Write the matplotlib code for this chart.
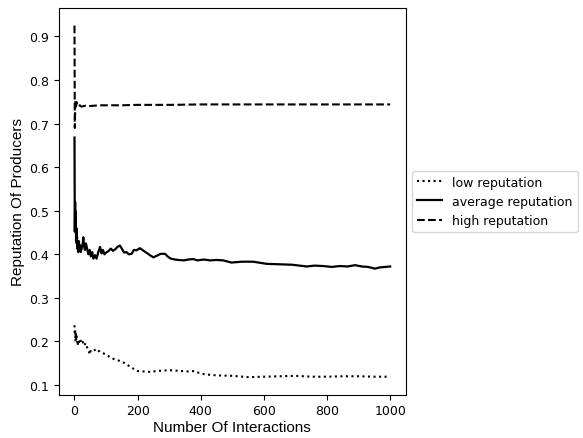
import matplotlib
matplotlib.use("Agg")
import matplotlib.pyplot as plt

# low reputation producers (dotted)
low_x = [0, 1, 2, 3, 4, 5, 6, 8, 10, 12, 14, 18, 22, 26, 30, 35, 40, 45, 48, 52, 60, 70, 80, 90, 100,
         110, 120, 130, 140, 150, 160, 170, 180, 190, 200, 220, 240, 260, 280, 300, 320, 340, 360, 380,
         400, 420, 450, 500, 550, 600, 650, 700, 750, 800, 850, 900, 950, 1000]
low_y = [0.237, 0.215, 0.228, 0.200, 0.222, 0.205, 0.215, 0.208, 0.190, 0.203, 0.198, 0.205, 0.195, 0.199,
         0.190, 0.196, 0.186, 0.180, 0.170, 0.180, 0.178, 0.183, 0.176, 0.173, 0.170,
         0.165, 0.161, 0.158, 0.156, 0.153, 0.150, 0.145, 0.140, 0.136, 0.132, 0.131, 0.130, 0.132, 0.133,
         0.134, 0.133, 0.132, 0.131, 0.132, 0.126, 0.124, 0.122, 0.121, 0.118, 0.119, 0.120, 0.121, 0.119,
         0.119, 0.120, 0.120, 0.119, 0.119]

# average reputation producers (solid)
avg_x = [0, 1, 2, 3, 4, 5, 6, 7, 8, 9, 10, 12, 14, 16, 18, 20, 23, 26, 28, 30, 33, 36, 40, 44, 48, 52,
         56, 60, 65, 70, 75, 81, 86, 90, 95, 100, 107, 115, 122, 130, 136, 144, 150, 157, 165, 172, 181,
         188, 196, 207, 215, 225, 241, 250, 262, 273, 287, 295, 305, 318, 329, 347, 360, 376, 390, 410,
         429, 450, 471, 497, 530, 566, 609, 651, 690, 736, 760, 788, 815, 841, 865, 889, 910, 930, 952,
         968, 985, 1000]
avg_y = [0.668, 0.452, 0.520, 0.470, 0.498, 0.432, 0.460, 0.425, 0.440, 0.413, 0.420, 0.405, 0.430, 0.410,
         0.420, 0.405, 0.415, 0.425, 0.439, 0.420, 0.410, 0.425, 0.413, 0.400, 0.410, 0.395, 0.405, 0.390,
         0.398, 0.390, 0.404, 0.417, 0.402, 0.410, 0.400, 0.404, 0.407, 0.413, 0.408, 0.412, 0.417, 0.420,
         0.413, 0.404, 0.405, 0.400, 0.401, 0.410, 0.409, 0.414, 0.410, 0.405, 0.397, 0.393, 0.397, 0.401,
         0.401, 0.395, 0.390, 0.388, 0.387, 0.386, 0.388, 0.389, 0.386, 0.388, 0.386, 0.387, 0.386, 0.381,
         0.383, 0.383, 0.378, 0.377, 0.376, 0.372, 0.374, 0.373, 0.371, 0.373, 0.372, 0.375, 0.372, 0.371,
         0.367, 0.370, 0.371, 0.372]

# high reputation producers (dashed)
high_x = [0, 1, 2, 3, 5, 7, 10, 14, 17, 22, 28, 35, 45, 60, 80, 100, 150, 200, 300, 400, 500, 600, 700,
          800, 900, 1000]
high_y = [0.925, 0.690, 0.730, 0.752, 0.740, 0.749, 0.745, 0.747, 0.741, 0.739, 0.740, 0.741, 0.740,
          0.741, 0.742, 0.742, 0.742, 0.743, 0.743, 0.744, 0.744, 0.744, 0.744, 0.744, 0.744, 0.744]

plt.rcParams["font.size"] = 9
fig = plt.figure(figsize=(5.83, 4.39), dpi=100)
ax = fig.add_axes([0.1007, 0.0986, 0.5956, 0.8809])

ax.plot(low_x, low_y, color="black", linestyle=":", linewidth=1.5, label="low reputation")
ax.plot(avg_x, avg_y, color="black", linestyle="-", linewidth=1.6, label="average reputation")
ax.plot(high_x, high_y, color="black", linestyle="--", linewidth=1.5, label="high reputation")

lab_font = {"family": "Liberation Sans", "size": 11}
ax.set_xlabel("Number Of Interactions", fontdict=lab_font, labelpad=2)
ax.set_ylabel("Reputation Of Producers", fontdict=lab_font, labelpad=3)
ax.legend(loc="center left", bbox_to_anchor=(1.0, 0.5))

fig.savefig("out.png", dpi=100)
